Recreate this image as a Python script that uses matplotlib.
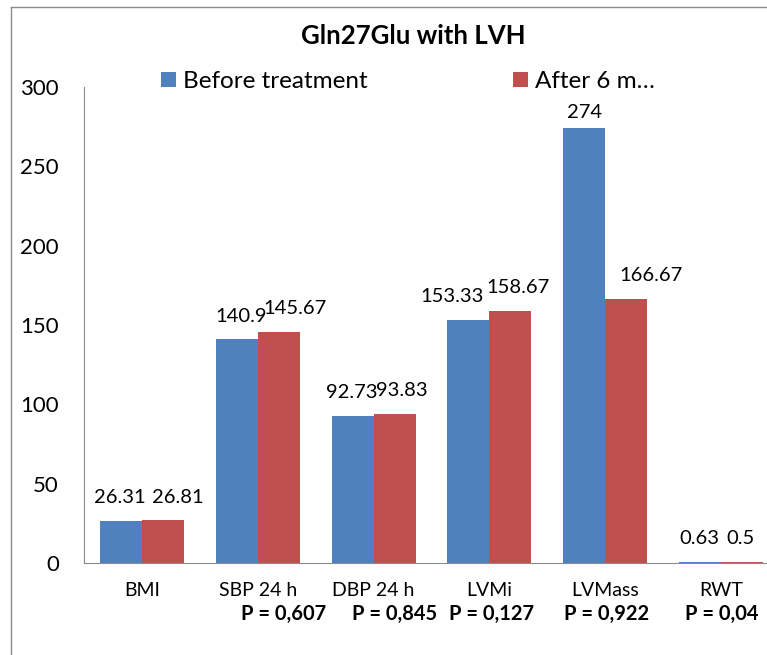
import matplotlib.pyplot as plt
import matplotlib.transforms as mtransforms
import numpy as np

categories = ['BMI', 'SBP 24 h', 'DBP 24 h', 'LVMi', 'LVMass', 'RWT']
before = [26.31, 140.9, 92.73, 153.33, 274, 0.63]
after = [26.81, 145.67, 93.83, 158.67, 166.67, 0.5]
before_labels = ['26.31', '140.9', '92.73', '153.33', '274', '0.63']
after_labels = ['26.81', '145.67', '93.83', '158.67', '166.67', '0.5']
p_values = ['', 'P = 0,607', 'P = 0,845', 'P = 0,127', 'P = 0,922', 'P = 0,04']
yticks = [0, 50, 100, 150, 200, 250, 300]

# label nudges (pixels) so overlapping value labels sit like the original
before_dx = [-1, 4, -1, -16, 0, -1]
after_dx = [15, 16, 7, 8, 25, -2]
p_dx = [0, 0.22, 0.18, 0.02, 0.01, 0.01]

plt.rcParams['font.family'] = ['Lato', 'DejaVu Sans']

blue = '#4F81BD'
red = '#C0504D'
grey = '#8C8C8C'

fig = plt.figure(figsize=(7.67, 6.55), dpi=100)

# outer chart frame (only top/left visible, rest cropped)
fx, fy = 11 / 767, 1 - 7 / 655
fig.add_artist(plt.Line2D([fx, fx], [0, fy], color=grey, lw=1.0, transform=fig.transFigure))
fig.add_artist(plt.Line2D([fx, 1.0], [fy, fy], color=grey, lw=1.0, transform=fig.transFigure))

ax = fig.add_axes([84 / 767, 92 / 655, 695 / 767, 476 / 655])
x = np.arange(len(categories))
w = 0.363
b1 = ax.bar(x - w / 2, before, w, color=blue, label='Before treatment')
b2 = ax.bar(x + w / 2, after, w, color=red, label='After 6 m…')

def value_labels(bars, labels, dxs):
    for rect, lab, dx in zip(bars, labels, dxs):
        y = min(rect.get_height() + 11.3, 280.5)
        ax.annotate(lab, (rect.get_x() + rect.get_width() / 2, y),
                    xytext=(dx * 0.72, 0), textcoords='offset points',
                    ha='center', va='baseline', fontsize=14.5)

value_labels(b1, before_labels, before_dx)
value_labels(b2, after_labels, after_dx)

ax.set_xlim(-0.5, len(categories) - 0.5)
ax.set_ylim(0, 300)
ax.set_yticks(yticks)
ax.set_xticks(x)
ax.set_xticklabels(categories, fontsize=14)
ax.tick_params(axis='both', length=0)
ax.tick_params(axis='y', labelsize=16, pad=18)
ax.tick_params(axis='x', pad=14)
for s in ['top', 'right']:
    ax.spines[s].set_visible(False)
ax.spines['left'].set_color(grey)
ax.spines['bottom'].set_color(grey)

# P-values under the category labels
trans = mtransforms.blended_transform_factory(ax.transData, fig.transFigure)
for i, p in enumerate(p_values):
    if p:
        ax.text(i + p_dx[i], 1 - 613.5 / 655, p, transform=trans, ha='center', va='center',
                fontsize=14.5, fontweight='bold')

fig.text(413 / 767, 1 - 36 / 655, 'Gln27Glu with LVH', ha='center', va='center',
         fontsize=18.5, fontweight='bold')
fig.legend(handles=[b1, b2], loc='center left', bbox_to_anchor=(161 / 767, 1 - 81.5 / 655),
           ncol=2, frameon=False, fontsize=17.5, borderpad=0, borderaxespad=0,
           handlelength=0.62, handleheight=0.62, handletextpad=0.28, columnspacing=6.0)

fig.savefig('out.png', dpi=100)
